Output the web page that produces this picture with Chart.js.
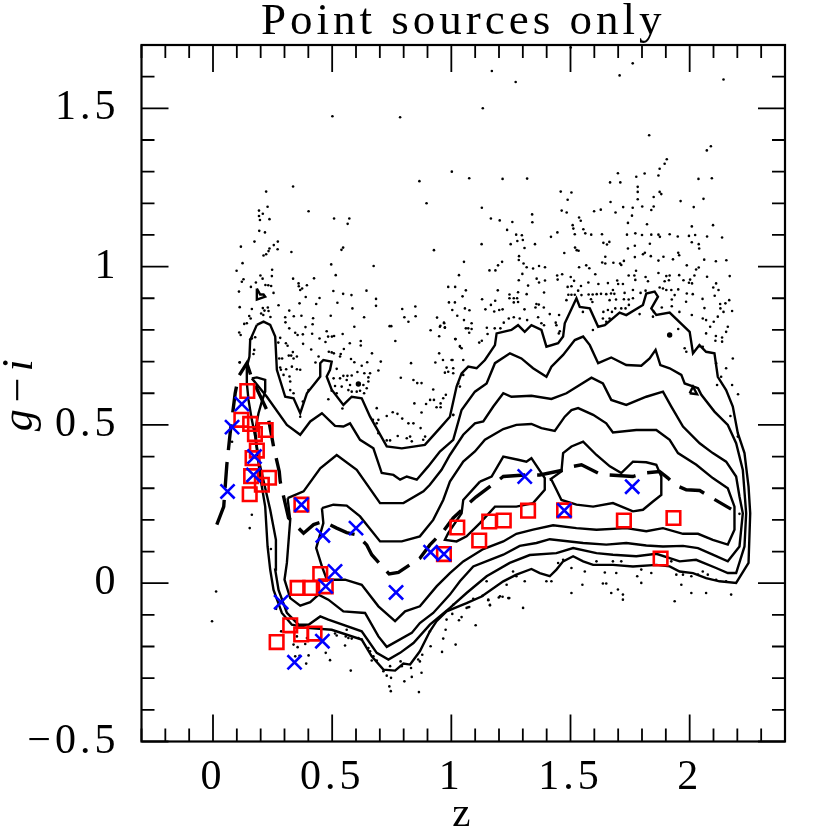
<!DOCTYPE html>
<html>
<head>
<meta charset="utf-8">
<title>Point sources only</title>
<script src="https://cdn.jsdelivr.net/npm/chart.js@4/dist/chart.umd.min.js"></script>
<style>
  body { margin: 0; background: #fff; }
  canvas { display: block; }
</style>
</head>
<body>
<canvas id="myChart" width="830" height="830"></canvas>
<script>
// all pairs are [z, g-i]
const zTickValues = [0, 0.5, 1, 1.5, 2];
const zTickLabels = ['0', '0.5', '1', '1.5', '2'];
const giTickValues = [-0.5, 0, 0.5, 1, 1.5];
const giTickLabels = ['\u22120.5', '0', '0.5', '1', '1.5'];

const redSquares = [[.144,.607],[.119,.516],[.156,.503],[.221,.484],[.176,.471],[.184,.419],[.166,.395],[.160,.338],[.235,.333],[.205,.311],[.154,.281],[.371,.248],[1.025,.176],[1.117,.135],[.969,.092],[.450,.029],[.473,-.010],[.408,-.015],[.355,-.015],[.324,-.133],[.370,-.162],[.426,-.159],[.267,-.186],[1.159,.195],[1.220,.198],[1.322,.229],[1.473,.230],[1.724,.198],[1.932,.206],[1.878,.078]];

const blueCrosses = [[.121,.566],[.080,.493],[.061,.290],[.174,.400],[.170,.342],[.371,.248],[.461,.151],[.600,.174],[.512,.037],[.473,-.010],[.286,-.060],[.459,-.183],[.342,-.250],[.768,-.029],[.913,.098],[.969,.092],[1.308,.337],[1.759,.305],[1.474,.230]];

const meanLine = [[.016,.185],[.045,.242],[.058,.374],[.072,.474],[.093,.600],[.107,.653],[.142,.695],[.163,.647],[.226,.547],[.254,.432],[.278,.353],[.282,.321],[.306,.242],[.317,.206],[.380,.158],[.422,.185],[.463,.195],[.519,.174],[.561,.160],[.603,.153],[.645,.121],[.666,.090],[.739,.029],[.778,.034],[.868,.079],[.910,.121],[.966,.164],[1.008,.206],[1.067,.248],[1.103,.272],[1.190,.321],[1.218,.337],[1.308,.342],[1.371,.342],[1.476,.358],[1.511,.369],[1.546,.374],[1.616,.348],[1.657,.342],[1.762,.337],[1.811,.348],[1.874,.353],[1.909,.332],[1.937,.311],[1.986,.295],[2.042,.293],[2.076,.277],[2.174,.234]];

const contour1 = [[.184,.816],[.212,.826],[.240,.816],[.261,.779],[.268,.674],[.303,.589],[.338,.584],[.366,.537],[.394,.600],[.450,.653],[.450,.695],[.463,.705],[.498,.700],[.491,.674],[.477,.653],[.498,.611],[.547,.563],[.582,.589],[.624,.584],[.659,.526],[.729,.432],[.792,.426],[.889,.437],[.952,.490],[.994,.526],[1.022,.621],[1.043,.663],[1.071,.684],[1.106,.679],[1.141,.705],[1.183,.752],[1.190,.789],[1.252,.800],[1.280,.815],[1.308,.794],[1.336,.815],[1.378,.800],[1.399,.747],[1.448,.758],[1.469,.779],[1.476,.821],[1.525,.900],[1.539,.873],[1.581,.868],[1.616,.810],[1.644,.815],[1.706,.855],[1.734,.847],[1.804,.879],[1.818,.915],[1.853,.921],[1.867,.905],[1.839,.868],[1.860,.847],[1.916,.855],[2.000,.794],[2.014,.726],[2.041,.752],[2.069,.731],[2.104,.726],[2.118,.652],[2.153,.610],[2.181,.558],[2.202,.474],[2.230,.411],[2.247,.305],[2.254,.221],[2.247,.064],[2.195,.001],[2.125,.006],[2.069,.016],[2.014,.032],[1.958,.037],[1.916,.053],[1.860,.058],[1.762,.053],[1.678,.058],[1.595,.058],[1.553,.069],[1.511,.085],[1.469,.069],[1.441,.043],[1.413,.022],[1.371,.032],[1.336,.045],[1.273,.027],[1.218,.006],[1.127,-.042],[1.064,-.063],[.980,-.089],[.938,-.120],[.910,-.152],[.868,-.215],[.827,-.257],[.799,-.254],[.764,-.276],[.715,-.273],[.666,-.231],[.624,-.178],[.498,-.147],[.394,-.141],[.331,-.131],[.289,-.094],[.254,-.021],[.240,.043],[.229,.116],[.219,.242],[.198,.337],[.177,.463],[.163,.516],[.149,.579],[.142,.632],[.142,.684],[.153,.716],[.156,.768]];

const contour2 = [[.163,.647],[.226,.589],[.310,.500],[.366,.469],[.408,.511],[.457,.537],[.512,.497],[.547,.495],[.575,.505],[.617,.453],[.673,.426],[.708,.348],[.757,.342],[.785,.327],[.813,.337],[.855,.327],[.903,.369],[.952,.416],[1.008,.453],[1.043,.547],[1.099,.605],[1.148,.631],[1.183,.695],[1.246,.726],[1.294,.710],[1.343,.679],[1.399,.652],[1.420,.684],[1.469,.721],[1.518,.768],[1.553,.779],[1.581,.752],[1.616,.695],[1.671,.713],[1.734,.689],[1.797,.687],[1.832,.710],[1.857,.737],[1.877,.689],[1.916,.679],[1.965,.658],[1.979,.631],[2.035,.616],[2.049,.595],[2.104,.542],[2.160,.500],[2.195,.442],[2.223,.358],[2.237,.221],[2.230,.116],[2.195,.032],[2.160,.032],[2.111,.048],[2.027,.074],[1.958,.069],[1.860,.093],[1.776,.085],[1.678,.090],[1.609,.095],[1.511,.111],[1.441,.095],[1.329,.089],[1.245,.064],[1.148,.022],[1.064,-.031],[.994,-.078],[.910,-.131],[.841,-.189],[.785,-.220],[.736,-.241],[.687,-.220],[.624,-.152],[.484,-.115],[.450,-.105],[.401,-.131],[.359,-.131],[.310,-.094],[.275,-.021],[.261,.043],[.264,.137],[.240,.232],[.198,.369],[.184,.432],[.177,.484],[.191,.537],[.205,.574],[.219,.605],[.219,.642],[.184,.650]];

const contour3 = [[.313,.269],[.380,.290],[.450,.363],[.519,.405],[.603,.358],[.701,.253],[.799,.253],[.883,.290],[.910,.311],[.959,.358],[.994,.405],[1.050,.469],[1.099,.505],[1.134,.511],[1.176,.558],[1.218,.600],[1.252,.589],[1.336,.592],[1.420,.582],[1.483,.600],[1.588,.649],[1.636,.631],[1.671,.579],[1.734,.563],[1.818,.589],[1.888,.605],[1.923,.558],[1.972,.495],[2.042,.442],[2.097,.411],[2.153,.384],[2.195,.337],[2.209,.274],[2.223,.221],[2.209,.116],[2.160,.069],[2.097,.090],[2.035,.111],[1.972,.118],[1.888,.116],[1.818,.119],[1.734,.127],[1.650,.122],[1.553,.127],[1.413,.139],[1.357,.127],[1.287,.118],[1.218,.090],[1.162,.074],[1.092,.053],[1.036,.006],[.994,-.036],[.924,-.094],[.868,-.126],[.834,-.157],[.729,-.201],[.694,-.168],[.638,-.094],[.547,-.089],[.484,-.052],[.443,-.036],[.408,-.060],[.366,-.071],[.324,-.047],[.300,.011],[.310,.064],[.324,.200]];

const contour4 = [[.457,.237],[.505,.248],[.561,.245],[.617,.211],[.701,.132],[.792,.132],[.868,.148],[.924,.200],[.966,.263],[.994,.321],[1.050,.384],[1.099,.416],[1.141,.453],[1.218,.487],[1.273,.500],[1.336,.503],[1.378,.490],[1.434,.481],[1.476,.526],[1.504,.547],[1.532,.553],[1.595,.532],[1.650,.505],[1.678,.476],[1.776,.484],[1.860,.484],[1.916,.453],[1.951,.411],[2.028,.374],[2.097,.332],[2.160,.300],[2.188,.242],[2.188,.169],[2.160,.122],[2.097,.137],[2.035,.156],[1.972,.156],[1.888,.174],[1.818,.164],[1.734,.174],[1.609,.169],[1.525,.174],[1.427,.183],[1.343,.169],[1.273,.156],[1.218,.132],[1.134,.108],[1.050,.069],[.994,.032],[.938,-.010],[.868,-.073],[.806,-.089],[.764,-.120],[.694,-.073],[.624,-.005],[.554,.011],[.478,.011],[.457,.053],[.433,.111],[.463,.190]];

const contour5a = [[1.120,.321],[1.169,.337],[1.218,.400],[1.280,.390],[1.315,.384],[1.336,.395],[1.392,.332],[1.392,.295],[1.343,.253],[1.273,.242],[1.183,.242],[1.120,.190],[1.064,.148],[1.022,.132],[.973,.137],[.987,.158],[1.043,.221],[1.050,.263]];

const contour5b = [[1.413,.327],[1.462,.353],[1.469,.411],[1.504,.432],[1.553,.447],[1.609,.405],[1.665,.369],[1.713,.348],[1.762,.384],[1.818,.382],[1.860,.374],[1.881,.337],[1.881,.279],[1.846,.258],[1.804,.232],[1.762,.227],[1.678,.253],[1.595,.242],[1.525,.248],[1.462,.263],[1.441,.295],[1.420,.327]];

const islandLeft = [[.184,.931],[.184,.896],[.219,.905],[.212,.912],[.198,.912]];
const islandRight = [[2.000,.600],[2.014,.621],[2.031,.597]];
const blobs = [[1.916,.784],[.610,.629]];

const dots = [
[1.170,1.618],[1.270,1.583],[1.761,1.642],[1.706,1.604],[2.142,1.591],[1.132,1.500],[.501,1.475],[.785,1.472],[1.501,1.692],
[1.830,1.415],[2.089,1.380],[2.072,1.367],[1.904,1.339],[1.895,1.325],[1.874,1.309],[1.002,1.300],[1.699,1.295],[1.811,1.294],[1.869,1.288],[1.776,1.284],[1.075,1.279],[1.215,1.277],[1.318,1.278],[2.037,1.277],[2.093,1.279],[1.666,1.266],[1.709,1.266],[1.782,1.252],[1.782,1.236],[1.874,1.236],[1.881,1.229],[1.459,1.237],[1.504,1.234],[1.849,1.220],[1.782,1.213],[1.488,1.211],[2.058,1.214],[1.668,1.204],[1.962,1.207],[1.128,1.186],[1.721,1.188],[1.761,1.186],[1.801,1.190],[1.849,1.190],[1.839,1.179],[2.017,1.188],[1.463,1.177],[1.484,1.171],[1.599,1.175],[1.627,1.180],[1.689,1.171],[1.758,1.161],[1.339,1.165],[1.536,1.155],[1.166,1.152],[1.203,1.146],[1.256,1.141],[1.340,1.140],[1.543,1.145],[1.741,1.138],[1.821,1.134],[2.098,1.131],[2.009,1.127],[1.509,1.131],[1.512,1.120],[1.554,1.118],[1.234,1.116],[1.445,1.108],[1.272,1.101],[1.296,1.099],[1.518,1.102],[1.562,1.105],[1.587,1.101],[1.632,1.102],[1.737,1.101],[1.772,1.105],[1.800,1.100],[1.839,1.101],[1.869,1.101],[1.875,1.094],[1.916,1.102],[1.950,1.095],[1.997,1.097],[2.023,1.100],[2.073,1.095],[2.136,1.092],[1.418,1.094],[1.277,1.081],[1.300,1.084],[1.127,1.071],[1.249,1.071],[1.351,1.071],[1.638,1.075],[1.653,1.070],[1.663,1.078],[1.833,1.072],[2.009,1.077],[2.038,1.071],[1.770,1.066],[1.741,1.057],[1.519,1.060],[1.526,1.052],[1.307,1.059],[2.040,1.057],[1.474,1.043],[1.534,1.050],[1.812,1.044],[1.804,1.039],[1.770,1.030],[1.837,1.033],[1.952,1.044],[1.956,1.036],[1.284,1.033],[1.283,1.021],[1.646,1.031],[1.890,1.031],[1.869,1.019],[1.930,1.023],[2.061,1.022],[2.110,1.017],[2.154,1.020],[1.053,1.015],[1.213,1.015],[1.633,1.013],[1.646,1.010],[1.680,1.012],[1.708,1.010],[1.713,1.005],[1.724,1.018],[1.303,1.010],[1.196,1.004],[1.160,.988],[1.185,.988],[1.316,.998],[1.343,.994],[1.368,1.002],[1.393,.998],[1.536,.998],[1.566,1.004],[1.579,.995],[1.988,1.004],[2.038,.997],[2.027,.991],[1.775,.987],[1.032,.973],[1.298,.977],[1.444,.972],[1.465,.976],[1.446,.959],[1.501,.967],[1.515,.955],[1.604,.976],[1.744,.972],[1.768,.972],[1.772,.958],[1.815,.967],[1.825,.954],[1.869,.980],[1.902,.970],[1.916,.972],[1.895,.954],[1.913,.957],[1.956,.973],[1.974,.957],[2.002,.959],[1.997,.949],[2.010,.947],[2.020,.972],[2.073,.968],[2.168,.970],[1.283,.957],[1.358,.962],[1.368,.950],[1.393,.956],[1.696,.956],[1.700,.945],[1.720,.945],[1.575,.950],[1.617,.945],[1.657,.948],[2.111,.947],[2.099,.934],[2.121,.926],[.987,.936],[1.016,.936],[1.322,.940],[1.504,.938],[1.544,.939],[1.488,.936],[1.061,.925],[1.195,.925],[1.280,.919],[1.244,.912],[1.316,.913],[1.389,.918],[1.532,.924],[1.491,.911],[1.504,.911],[1.518,.911],[1.546,.910],[1.576,.912],[1.593,.912],[1.610,.913],[1.628,.914],[1.650,.913],[1.678,.926],[1.670,.915],[1.684,.914],[1.727,.917],[1.762,.926],[1.794,.917],[1.815,.924],[1.874,.934],[1.888,.931],[1.902,.926],[1.923,.926],[1.937,.910],[1.952,.928],[1.988,.915],[2.013,.913],[2.105,.908],[1.047,.906],[1.129,.897],[1.244,.900],[1.262,.900],[1.276,.900],[1.483,.894],[1.586,.897],[1.592,.888],[1.664,.894],[1.691,.896],[1.724,.897],[1.744,.896],[1.762,.900],[2.054,.898],[1.925,.896],[2.166,.894],[.990,.887],[1.015,.887],[1.184,.892],[1.262,.887],[1.280,.888],[1.166,.879],[1.357,.882],[1.367,.880],[1.388,.871],[1.353,.871],[1.985,.889],[2.150,.884],[2.128,.882],[2.062,.869],[1.057,.868],[1.004,.863],[1.076,.862],[1.143,.865],[1.180,.858],[1.201,.863],[1.215,.865],[1.307,.865],[1.413,.850],[1.552,.857],[1.638,.857],[1.657,.863],[1.674,.857],[1.688,.868],[1.713,.868],[1.731,.868],[1.745,.879],[1.850,.857],[1.883,.871],[1.925,.875],[1.957,.857],[2.129,.868],[2.142,.857],[2.178,.860],[1.025,.845],[1.241,.836],[1.262,.840],[1.287,.836],[1.318,.831],[1.364,.840],[1.452,.847],[1.636,.836],[1.664,.836],[1.790,.850],[1.846,.842],[2.009,.847],[2.118,.842],[1.053,.831],[.969,.823],[.952,.810],[.973,.807],[1.061,.805],[1.085,.821],[1.071,.805],[1.085,.803],[1.075,.791],[1.149,.807],[1.220,.823],[1.206,.805],[1.182,.805],[1.378,.821],[1.389,.815],[1.438,.823],[1.441,.815],[1.455,.796],[1.451,.789],[1.650,.826],[1.594,.800],[2.055,.836],[2.069,.831],[2.086,.810],[2.069,.789],[2.101,.826],[2.160,.810],[2.153,.794],[2.110,.781],[2.136,.776],[1.152,.787],[1.016,.771],[1.128,.766],[1.117,.760],[1.036,.749],[1.043,.742],[2.108,.766],[2.136,.763],[1.952,.803],[2.041,.749],[2.055,.747],
[.336,1.253],[.866,1.270],[.223,1.237],[.896,1.200],[.229,1.189],[.193,1.177],[.209,1.167],[.193,1.160],[.401,1.175],[.197,1.147],[.237,1.150],[.508,1.152],[.572,1.152],[.565,1.135],[.194,1.113],[.218,1.108],[.174,1.079],[.272,1.079],[.255,1.068],[.117,1.063],[.237,1.057],[.271,1.055],[.233,1.049],[.223,1.039],[.212,1.035],[.329,1.046],[.546,1.060],[.539,1.053],[.927,1.052],[.124,1.011],[.496,1.007],[.674,1.002],[.248,.990],[.099,.987],[.515,.973],[.199,.972],[.247,.970],[.208,.962],[.336,.962],[.424,.963],[.128,.960],[.121,.952],[.180,.950],[.159,.936],[.220,.942],[.232,.941],[.244,.939],[.359,.947],[.360,.938],[.394,.941],[.374,.931],[.366,.926],[.109,.921],[.254,.917],[.505,.923],[.546,.914],[.581,.910],[.644,.924],[.447,.901],[.389,.904],[.684,.898],[.684,.876],[.363,.884],[.522,.886],[.433,.882],[.163,.866],[.112,.872],[.275,.878],[.209,.869],[.230,.871],[.216,.861],[.233,.860],[.202,.852],[.211,.847],[.585,.868],[.794,.866],[.849,.874],[.320,.861],[.303,.840],[.339,.843],[.371,.845],[.420,.837],[.494,.845],[.634,.840],[.803,.840],[.850,.843],[.152,.844],[.158,.836],[.241,.841],[.304,.824],[.820,.826],[.940,.839],[.131,.819],[.142,.821],[.418,.818],[.388,.809],[.741,.812],[.748,.812],[.593,.810],[.954,.813],[.970,.821],[.973,.808],[.913,.799],[.110,.792],[.116,.784],[.320,.805],[.345,.791],[.355,.784],[.377,.786],[.416,.788],[.477,.796],[.508,.781],[.483,.779],[.499,.779],[.544,.787],[.949,.780],[.447,.773],[.282,.775],[.177,.777],[.163,.773],[.156,.770],[.306,.758],[.313,.750],[.274,.760],[.378,.756],[.472,.762],[.574,.758],[.620,.765],[.620,.751],[.765,.765],[1.018,.771],[.173,.737],[.170,.724],[.335,.730],[.318,.719],[.328,.719],[.412,.738],[.486,.731],[.498,.729],[.507,.726],[.536,.724],[.549,.740],[.667,.726],[.949,.726],[.278,.710],[.290,.710],[.338,.710],[.352,.716],[.443,.716],[.533,.716],[.579,.708],[.593,.698],[.704,.700],[.647,.698],[.624,.687],[.112,.698],[.831,.695],[.933,.697],[.965,.705],[1.005,.705],[.980,.681],[.987,.668],[1.008,.679],[.282,.681],[.285,.674],[.307,.676],[.331,.684],[.366,.674],[.352,.676],[.430,.697],[.519,.677],[.694,.672],[.606,.667],[.321,.653],[.324,.637],[.296,.658],[.547,.655],[.564,.655],[.582,.656],[.506,.647],[.533,.647],[.561,.642],[.635,.663],[.659,.663],[.652,.650],[.788,.649],[.841,.642],[.857,.632],[.875,.632],[.973,.665],[.575,.626],[.652,.637],[.631,.626],[.645,.616],[.512,.623],[.540,.621],[.519,.600],[.568,.610],[.582,.605],[.603,.605],[.617,.608],[.634,.600],[.924,.612],[.977,.595],[.966,.584],[.927,.579],[.911,.579],[.955,.568],[.894,.566],[.845,.568],[.938,.556],[.955,.556],[.875,.539],[.687,.553],[.729,.528],[.754,.540],[.774,.535],[1.036,.621],[1.008,.531],[.794,.520],[.820,.505],[.841,.505],[.871,.490],[.694,.516],[.671,.516],[.729,.451],[.743,.451],[.687,.505],[.694,.474],[.775,.465],[.813,.458],[.827,.463],[.834,.448],[.882,.453],[.890,.463],[.484,.581],[.543,.552],[.366,.526],[.498,.608],[.401,.610],[.324,.610],[.338,.600],[.377,.574],
[2.171,.528],[2.203,.597],[2.178,.626],[2.115,.626],[2.202,.463],[2.209,.219],[1.008,.532],[1.050,.705],[1.036,.747],[1.001,.705],[1.008,.663],[1.050,.658],[1.029,.631],[1.986,.731],[1.979,.742],[2.111,.695],[2.132,.652],[2.153,.679],[2.181,.710],
[1.469,.074],[1.504,.048],[1.560,.037],[1.609,.069],[1.644,.034],[1.678,.069],[1.713,.069],[1.692,.032],[1.780,.022],[1.797,.043],[1.839,.032],[1.923,.069],[1.944,.027],[1.972,.027],[2.007,.022],[2.035,.027],[2.055,.037],[2.076,.027],[2.111,.011],[2.153,.006],[1.259,.037],[1.273,.022],[1.308,.006],[1.399,.006],[1.420,.006],[1.448,.064],[1.148,.006],[1.232,-.005],[1.636,-.001],[1.650,-.001],[1.550,-.005],[1.504,-.031],[1.671,-.031],[1.699,-.020],[1.720,-.052],[1.720,-.036],[1.797,.001],[1.937,-.057],[1.965,-.005],[2.007,-.031],[2.069,-.031],[2.174,-.036],[1.204,-.041],[1.239,-.047],[1.155,-.052],[1.162,-.068],[1.301,-.078],[1.071,-.076],
[-.004,-.120],[.265,-.081],[.286,-.152],[.338,-.194],[.355,-.202],[.387,-.192],[.345,-.231],[.363,-.229],[.401,-.228],[.391,-.254],[.352,-.168],[.394,-.173],[.473,-.220],[.491,-.243],[.554,-.197],[.512,-.159],[.519,-.165],[.557,-.168],[.568,-.173],[.582,-.175],[.610,-.173],[.624,-.178],[.561,-.147],[.578,-.276],[.652,-.205],[.659,-.215],[.673,-.231],[.687,-.244],[.666,-.244],[.715,-.278],[.743,-.262],[.729,-.292],[.747,-.299],[.740,-.326],[.746,-.341],[.787,-.247],[.792,-.262],[.831,-.268],[.834,-.296],[.803,-.310],[.864,-.344],[.875,-.283],[.868,-.247],[.861,-.241],[.878,-.226],[.913,-.199],[.961,-.217],[.966,-.175],[1.018,-.194],[.976,-.147],[.910,-.152],[.980,-.115],[1.004,-.097],[1.043,-.107],[1.032,-.117],[1.102,-.133],[1.064,-.078],[1.075,-.075],[1.008,-.068],[1.162,-.070],[1.155,-.054],[1.199,-.045],[1.215,-.043],[1.243,-.047],[1.131,-.040],[1.092,-.049],
[.163,.216],[.154,.174],[.080,.447],[.243,.108],[.013,-.026],[.112,.697]
];

const fontName = '"Liberation Serif", serif';
const toXY = pts => pts.map(p => ({ x: p[0], y: p[1] }));
const closed = pts => toXY([...pts, pts[0]]);

function contourSet(pts) {
    return { data: closed(pts), showLine: true, borderColor: '#000', borderWidth: 2.4, pointRadius: 0, tension: 0, fill: false };
}

// ticks point inward on all four sides, long ones every 0.5
const frameTicks = {
    id: 'frameTicks',
    beforeDraw(chart) {
        chart.ctx.letterSpacing = '4px';
    },
    afterDraw(chart) {
        const { ctx, chartArea: a, scales } = chart;
        ctx.save();
        ctx.strokeStyle = '#000';
        ctx.lineWidth = 1.8;
        ctx.beginPath();
        scales.x.ticks.forEach(t => {
            const px = scales.x.getPixelForValue(t.value);
            const len = zTickValues.some(v => Math.abs(v - t.value) < 1e-6) ? 27 : 13;
            ctx.moveTo(px, a.bottom); ctx.lineTo(px, a.bottom - len);
            ctx.moveTo(px, a.top); ctx.lineTo(px, a.top + len);
        });
        scales.y.ticks.forEach(t => {
            const py = scales.y.getPixelForValue(t.value);
            const len = giTickValues.some(v => Math.abs(v - t.value) < 1e-6) ? 27 : 13;
            ctx.moveTo(a.left, py); ctx.lineTo(a.left + len, py);
            ctx.moveTo(a.right, py); ctx.lineTo(a.right - len, py);
        });
        ctx.stroke();
        ctx.lineWidth = 2.2;
        ctx.strokeRect(a.left, a.top, a.right - a.left, a.bottom - a.top);
        ctx.restore();
    }
};

new Chart(document.getElementById('myChart').getContext('2d'), {
    type: 'scatter',
    data: {
        datasets: [
            { data: toXY(blueCrosses), pointStyle: 'crossRot', pointRadius: 10, pointBorderWidth: 2.6, pointBorderColor: '#0000ff', pointBackgroundColor: 'rgba(0,0,0,0)' },
            { data: toXY(redSquares), pointStyle: 'rect', pointRadius: 9.6, pointBorderWidth: 2.6, pointBorderColor: '#ff0000', pointBackgroundColor: 'rgba(0,0,0,0)' },
            { data: toXY(meanLine), showLine: true, borderColor: '#000', borderWidth: 3.4, borderDash: [26, 12], pointRadius: 0, tension: 0, fill: false },
            contourSet(contour1),
            contourSet(contour2),
            contourSet(contour3),
            contourSet(contour4),
            contourSet(contour5a),
            contourSet(contour5b),
            contourSet(islandLeft),
            contourSet(islandRight),
            { data: toXY(blobs), pointRadius: 2.7, pointBorderWidth: 0, pointBackgroundColor: '#000' },
            { data: toXY(dots), pointRadius: 1.3, pointBorderWidth: 0, pointBackgroundColor: '#000' }
        ]
    },
    options: {
        responsive: false,
        animation: false,
        layout: { padding: { right: 45 } },
        plugins: {
            legend: { display: false },
            tooltip: { enabled: false },
            title: {
                display: true,
                fullSize: false,
                text: 'Point sources only',
                color: '#000',
                font: { family: fontName, size: 45, weight: 'normal', lineHeight: 1 },
                padding: { top: 0, bottom: 0 }
            }
        },
        scales: {
            x: {
                type: 'linear',
                min: -0.3,
                max: 2.4,
                afterFit(scale) {
                    scale.height = 88.5;
                    scale.paddingLeft = 0;
                    scale.paddingRight = 0;
                },
                grid: { display: false, drawTicks: false },
                border: { display: false },
                title: { display: true, text: 'z', color: '#000', font: { family: fontName, size: 41, lineHeight: 0.7 }, padding: 0 },
                ticks: {
                    stepSize: 0.1,
                    autoSkip: false,
                    maxRotation: 0,
                    padding: 11,
                    color: '#000',
                    font: { family: fontName, size: 42 },
                    callback(v) {
                        const i = zTickValues.findIndex(t => Math.abs(t - v) < 1e-6);
                        return i < 0 ? '' : zTickLabels[i];
                    }
                }
            },
            y: {
                min: -0.5,
                max: 1.7,
                afterFit(scale) {
                    scale.width = 141.5;
                    scale.paddingTop = 0;
                    scale.paddingBottom = 0;
                },
                grid: { display: false, drawTicks: false },
                border: { display: false },
                title: { display: true, text: 'g\u2212i', color: '#000', font: { family: fontName, size: 44, style: 'italic', lineHeight: 0.95 }, padding: 0 },
                ticks: {
                    stepSize: 0.1,
                    autoSkip: false,
                    padding: 22,
                    color: '#000',
                    font: { family: fontName, size: 42 },
                    callback(v) {
                        const i = giTickValues.findIndex(t => Math.abs(t - v) < 1e-6);
                        return i < 0 ? '' : giTickLabels[i];
                    }
                }
            }
        }
    },
    plugins: [frameTicks]
});
</script>
</body>
</html>
